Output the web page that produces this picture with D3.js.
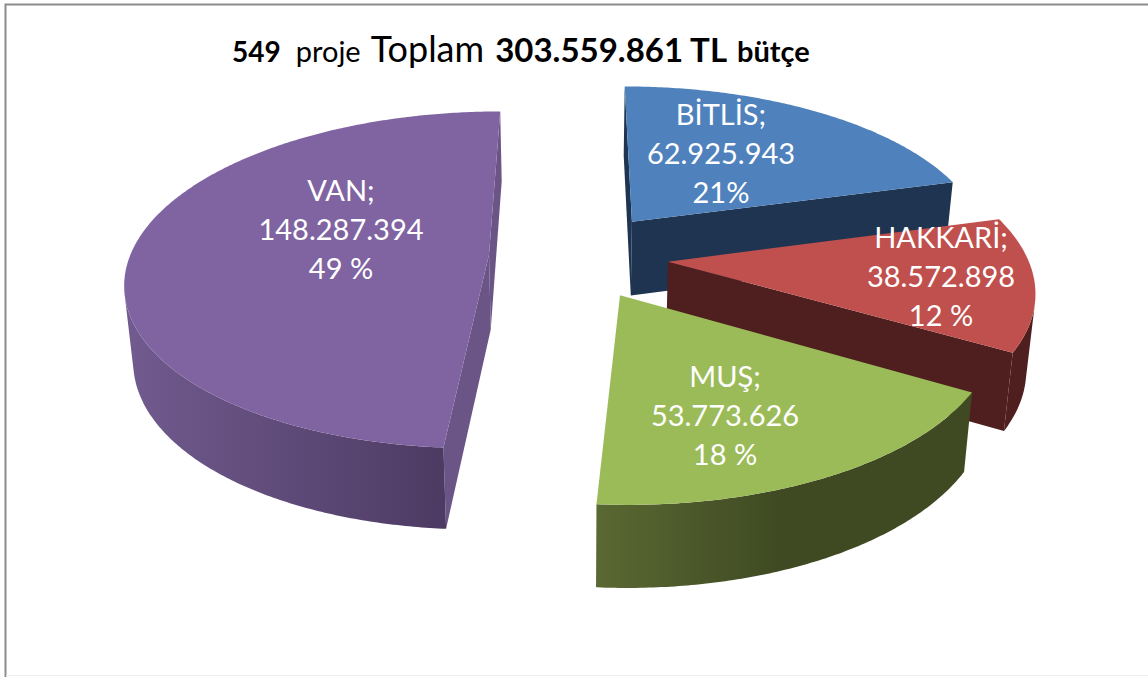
<!DOCTYPE html>
<html>
<head>
<meta charset="utf-8">
<script src="https://cdn.jsdelivr.net/npm/d3@7"></script>
<style>
  html, body { margin: 0; padding: 0; background: #fff; }
  svg { display: block; font-family: Lato, "Open Sans", sans-serif; }
  .lbl { fill: #fff; font-size: 29px; text-anchor: middle; }
</style>
</head>
<body>
<div id="chart"></div>
<script>
const cities = ["BİTLİS", "HAKKARİ", "MUŞ", "VAN"];
const budgets = [62925943, 38572898, 53773626, 148287394];
const budgetText = ["62.925.943", "38.572.898", "53.773.626", "148.287.394"];
const percentText = ["21%", "12 %", "18 %", "49 %"];
const topColors = ["#4f81bd", "#c0504d", "#9bbb59", "#8064a2"];
const wallColors = ["#1f3450", "#4f1e1e", "#3f4a22", "#6b5586"];
const rimLeft = ["#1f3450", "#4f1e1e", "#5a6833", "#705a8e"];
const rimRight = ["#1f3450", "#4f1e1e", "#3f4a22", "#47355b"];

const width = 1148, height = 677;

// explosion distance of every slice, in pie radii
const explode = [0.27, 0.26, 0.26, 0.24];
const drawOrder = [0, 3, 1, 2];
const labelAt = [[721, 125], [941, 248], [725, 387], [341, 201]];

const svg = d3.select("#chart").append("svg")
    .attr("width", width)
    .attr("height", height);

svg.append("path")
    .attr("d", "M5.5,677V4.5H1148")
    .attr("fill", "none")
    .attr("stroke", "#8c8c8c")
    .attr("stroke-width", 2);
svg.append("line")
    .attr("x1", 6).attr("x2", 1148).attr("y1", 675.5).attr("y2", 675.5)
    .attr("stroke", "#eeeeee");

// perspective view of the pie plane
const scaleX = 359, scaleY = 165, persp = 0.15, depth = 75, lean = 0.02, originX = 575, originY = 256;

function project(x, y, low) {
    const w = 1 + persp * y;
    const px = scaleX * x / w;
    if (!low) return [originX + px, originY - scaleY * y / w];
    // the bottom rim sits a bit lower and leans in towards the middle
    return [originX + px * (1 - lean), originY - scaleY * y / w + depth / Math.sqrt(w)];
}

const pie = d3.pie().sort(null).value(d => d);
const arcs = pie(budgets);
const line = d3.line();
const defs = svg.append("defs");

function isVisible(a, b, aLow, bLow) {
    return d3.polygonArea([a, b, bLow, aLow]) > 0;
}

drawOrder.forEach(function(i) {
    const arc = arcs[i];
    const mid = (arc.startAngle + arc.endAngle) / 2;
    const cx = explode[i] * Math.sin(mid);
    const cy = explode[i] * Math.cos(mid);

    const angles = d3.range(arc.startAngle, arc.endAngle, 0.01).concat([arc.endAngle]);
    const rim = angles.map(t => [cx + Math.sin(t), cy + Math.cos(t)]);
    const top = rim.map(p => project(p[0], p[1], false));
    const low = rim.map(p => project(p[0], p[1], true));
    const apex = project(cx, cy, false);
    const apexLow = project(cx, cy, true);
    const g = svg.append("g");

    // straight side walls
    const startVisible = isVisible(apex, top[0], apexLow, low[0]);
    const last = top.length - 1;
    const endVisible = isVisible(top[last], apex, low[last], apexLow);
    if (startVisible) {
        g.append("path")
            .attr("d", line([apex, top[0], low[0], apexLow]) + "Z")
            .attr("fill", wallColors[i]);
    }
    if (endVisible) {
        g.append("path")
            .attr("d", line([top[last], apex, apexLow, low[last]]) + "Z")
            .attr("fill", wallColors[i]);
    }

    // curved outer wall, only the part facing us
    const grad = defs.append("linearGradient")
        .attr("id", "rim" + i)
        .attr("gradientUnits", "userSpaceOnUse")
        .attr("x1", d3.min(low, p => p[0])).attr("y1", 0)
        .attr("x2", d3.max(low, p => p[0])).attr("y2", 0);
    grad.append("stop").attr("offset", 0).attr("stop-color", rimLeft[i]);
    grad.append("stop").attr("offset", i === 2 ? 0.5 : 1).attr("stop-color", rimRight[i]);

    let run = [];
    function flush() {
        if (run.length > 1) {
            const pts = run.map(k => top[k]).concat(run.slice().reverse().map(k => low[k]));
            g.append("path")
                .attr("d", line(pts) + "Z")
                .attr("fill", "url(#rim" + i + ")");
        }
        run = [];
    }
    for (let k = 0; k < last; k++) {
        if (isVisible(top[k], top[k + 1], low[k], low[k + 1])) {
            if (!run.length) run.push(k);
            run.push(k + 1);
        } else {
            flush();
        }
    }
    flush();

    // top face
    g.append("path")
        .attr("d", line([apex].concat(top)) + "Z")
        .attr("fill", topColors[i]);

    // label
    const text = g.append("text").attr("class", "lbl")
        .attr("x", labelAt[i][0]).attr("y", labelAt[i][1]);
    [cities[i] + ";", budgetText[i], percentText[i]].forEach(function(t, n) {
        text.append("tspan")
            .attr("x", labelAt[i][0])
            .attr("dy", n ? 39 : 0)
            .text(t);
    });
});

// title
const title = svg.append("text").attr("x", 232).attr("y", 62).attr("fill", "#000");
title.append("tspan").attr("font-size", 28).attr("font-weight", 700).text("549");
title.append("tspan").attr("font-size", 29).attr("dx", 15).text("proje");
title.append("tspan").attr("font-size", 36).attr("dx", 10).text("Toplam");
title.append("tspan").attr("font-size", 33).attr("font-weight", 700).attr("dx", 11).text("303.559.861 TL");
title.append("tspan").attr("font-size", 29).attr("font-weight", 700).attr("dx", 10).text("bütçe");
</script>
</body>
</html>
